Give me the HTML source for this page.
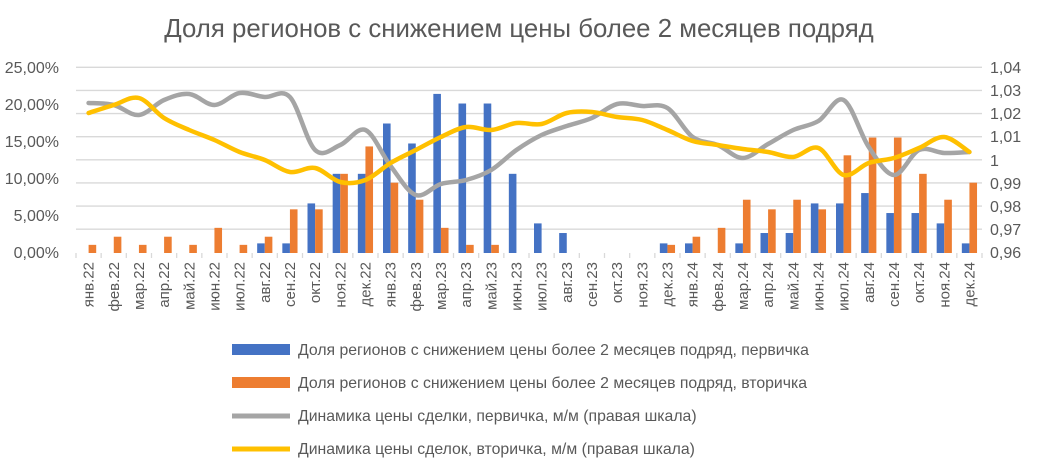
<!DOCTYPE html>
<html><head><meta charset="utf-8"><style>
html,body{margin:0;padding:0;background:#fff;}
svg{display:block;font-family:"Liberation Sans",Arial,sans-serif;}
</style></head><body>
<svg id="s" width="1042" height="474" viewBox="0 0 1042 474" xmlns="http://www.w3.org/2000/svg">
<rect width="1042" height="474" fill="#fff"/>
<text x="519" y="37" text-anchor="middle" font-size="25.8" fill="#595959">Доля регионов с снижением цены более 2 месяцев подряд</text>
<g id="grid" stroke="#d9d9d9" stroke-width="1.3"></g>
<g id="bars"></g>
<g id="lines"></g>
<g font-size="16" fill="#595959" text-anchor="end">
<text x="59" y="73">25,00%</text><text x="59" y="110">20,00%</text><text x="59" y="147">15,00%</text>
<text x="59" y="184">10,00%</text><text x="59" y="221">5,00%</text><text x="59" y="258">0,00%</text>
</g>
<g font-size="16" fill="#595959" text-anchor="start">
<text x="990" y="73">1,04</text><text x="990" y="96">1,03</text><text x="990" y="119">1,02</text><text x="990" y="142">1,01</text>
<text x="990" y="166">1</text><text x="990" y="189">0,99</text><text x="990" y="212">0,98</text><text x="990" y="235">0,97</text><text x="990" y="258">0,96</text>
</g>
<g id="xl" font-size="15" fill="#595959" text-anchor="end"></g>
<g font-size="15.8" fill="#595959">
<rect x="232" y="344" width="58" height="11" fill="#4472c4"/>
<text x="298" y="355">Доля регионов с снижением цены более 2 месяцев подряд, первичка</text>
<rect x="232" y="377" width="58" height="11" fill="#ed7d31"/>
<text x="298" y="388">Доля регионов с снижением цены более 2 месяцев подряд, вторичка</text>
<line x1="232" y1="416" x2="290" y2="416" stroke="#a5a5a5" stroke-width="5"/>
<text x="298" y="421">Динамика цены сделки, первичка, м/м (правая шкала)</text>
<line x1="232" y1="449" x2="290" y2="449" stroke="#ffc000" stroke-width="5"/>
<text x="298" y="454">Динамика цены сделок, вторичка, м/м (правая шкала)</text>
</g>
</svg>
<script>
var NS="http://www.w3.org/2000/svg",L=76,R=982,W=(R-L)/36,Y0=253,P=7.4;
function el(t,a,p){var e=document.createElementNS(NS,t);for(var k in a)e.setAttribute(k,a[k]);document.getElementById(p).appendChild(e);return e;}
for(var i=0;i<8;i++){var y=67.3+i*(185/8);el('line',{x1:L,x2:R,y1:y,y2:y},'grid');}
for(var i=0;i<=36;i++){var x=L+i*W;el('line',{x1:x,x2:x,y1:Y0,y2:Y0+5},'grid');}
var m=["янв","фев","мар","апр","май","июн","июл","авг","сен","окт","ноя","дек"];
for(var i=0;i<36;i++){var cx=L+W*(i+0.5);var t=el('text',{x:0,y:0,transform:'translate('+(cx+5)+',262) rotate(-90)'},'xl');t.textContent=m[i%12]+"."+(22+Math.floor(i/12));}
var B=[0,0,0,0,0,0,0,1.3,1.3,6.7,10.7,10.7,17.5,14.8,21.5,20.2,20.2,10.7,4.0,2.7,0,0,0,1.3,1.3,0,1.3,2.7,2.7,6.7,6.7,8.1,5.4,5.4,4.0,1.3];
var O=[1.1,2.2,1.1,2.2,1.1,3.4,1.1,2.2,5.9,5.9,10.7,14.4,9.5,7.2,3.4,1.1,1.1,0,0,0,0,0,0,1.1,2.2,3.4,7.2,5.9,7.2,5.9,13.2,15.6,15.6,10.7,7.2,9.5];
for(var i=0;i<36;i++){var x=L+i*W+5;
if(B[i])el('rect',{x:x,y:Y0-B[i]*P,width:7.6,height:B[i]*P,fill:'#4472c4'},'bars');
if(O[i])el('rect',{x:x+7.6,y:Y0-O[i]*P,width:7.6,height:O[i]*P,fill:'#ed7d31'},'bars');}
var G=[103,105,115,100,94,105,93,97,97,150,145,130,166,195,184,180,170,150,135,126,118,104,106,108,137,145,158,144,130,121,100,147,175,150,153,152];
var Yl=[113,105,98,118,130,140,152,160,172,168,182,180,163,150,137,127,130,123,124,113,112,117,120,130,141,145,149,152,157,148,175,163,158,148,137,152];
function path(a){var p=a.map(function(y,i){return [L+W*(i+0.5),y];});var d="M"+p[0][0]+","+p[0][1];
for(var i=0;i<p.length-1;i++){var p0=p[i-1]||p[i],p1=p[i],p2=p[i+1],p3=p[i+2]||p2;
d+=" C"+(p1[0]+(p2[0]-p0[0])/6)+","+(p1[1]+(p2[1]-p0[1])/6)+" "+(p2[0]-(p3[0]-p1[0])/6)+","+(p2[1]-(p3[1]-p1[1])/6)+" "+p2[0]+","+p2[1];}return d;}
el('path',{d:path(G),fill:'none',stroke:'#a5a5a5','stroke-width':4.5,'stroke-linecap':'round'},'lines');
el('path',{d:path(Yl),fill:'none',stroke:'#ffc000','stroke-width':4.5,'stroke-linecap':'round'},'lines');
</script>
</body></html>
